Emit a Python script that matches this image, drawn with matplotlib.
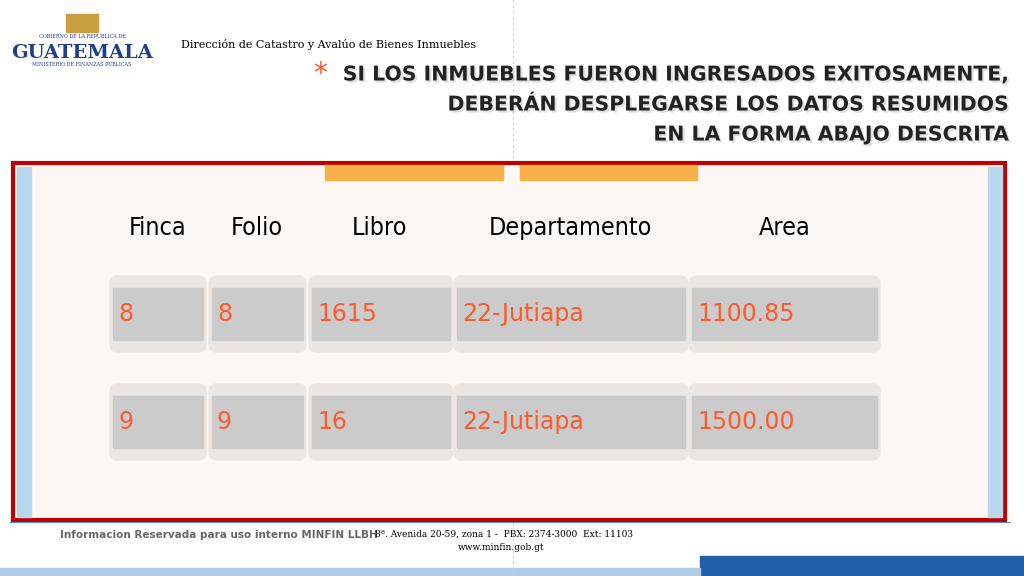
import matplotlib
matplotlib.use("Agg")
import matplotlib.pyplot as plt
from matplotlib.patches import Rectangle, FancyBboxPatch
import matplotlib.patheffects as pe

columns = ["Finca", "Folio", "Libro", "Departamento", "Area"]
row_values = [["8", "8", "1615", "22-Jutiapa", "1100.85"],
              ["9", "9", "16", "22-Jutiapa", "1500.00"]]
title_lines = ["SI LOS INMUEBLES FUERON INGRESADOS EXITOSAMENTE,",
               "DEBERÁN DESPLEGARSE LOS DATOS RESUMIDOS",
               "EN LA FORMA ABAJO DESCRITA"]

fig = plt.figure(figsize=(10.24, 5.76), dpi=100)
ax = fig.add_axes([0, 0, 1, 1])
ax.set_xlim(0, 1024); ax.set_ylim(576, 0); ax.axis("off")

ax.plot([513, 513], [0, 576], ls=(0, (2, 3)), color="#d0d0d0", lw=0.8)
ax.text(82, 53, "GUATEMALA", family="DejaVu Serif", weight="bold", size=14, color="#1f3f8a", ha="center", va="center")
ax.text(82, 38, "GOBIERNO DE LA REPÚBLICA DE", family="DejaVu Serif", size=3.5, color="#1f3f8a", ha="center")
ax.text(82, 66, "MINISTERIO DE FINANZAS PÚBLICAS", family="DejaVu Serif", size=3.5, color="#1f3f8a", ha="center")
ax.add_patch(Rectangle((66, 14), 32, 18, color="#c8a040"))
ax.text(181, 44, "Dirección de Catastro y Avalúo de Bienes Inmuebles", family="DejaVu Serif", size=8, va="center")

ys = [75, 105, 135]
for y, t in zip(ys, title_lines):
    ax.text(1008, y, t, ha="right", va="center", size=14.7, weight="bold", family="DejaVu Sans",
            color="#222222", path_effects=[pe.withSimplePatchShadow(offset=(1.5, -1.5), shadow_rgbFace="#999999")])
ax.text(320, 74, "*", size=20, color="#ff5a2a", va="center", ha="center")

ax.add_patch(Rectangle((13, 163), 992, 357, facecolor="#fdf7f3", edgecolor="#c00000", lw=3, zorder=2))
ax.add_patch(Rectangle((17, 167), 14, 350, color="#b8d8ee", zorder=3))
ax.add_patch(Rectangle((988, 167), 14, 350, color="#b8d8ee", zorder=3))
ax.add_patch(Rectangle((325, 165), 178, 15, color="#f8b04a", zorder=3))
ax.add_patch(Rectangle((520, 165), 177, 15, color="#f8b04a", zorder=3))

col_x = [(113, 203), (212, 303), (312, 450), (457, 685), (692, 877)]
head_x = [158, 257, 380, 570, 785]
for hx, c in zip(head_x, columns):
    ax.text(hx, 228, c, ha="center", va="center", size=18, family="DejaVu Sans", stretch="condensed", zorder=4)
row_y = [(288, 340), (396, 448)]
for (y0, y1), vals in zip(row_y, row_values):
    for (x0, x1), v in zip(col_x, vals):
        ax.add_patch(FancyBboxPatch((x0 - 3, y0 - 12), x1 - x0 + 6, y1 - y0 + 24,
                                    boxstyle="round,pad=0,rounding_size=8", color="#ebe6e2", zorder=3))
        ax.add_patch(Rectangle((x0, y0), x1 - x0, y1 - y0, color="#cbcbcb", zorder=4))
        ax.text(x0 + 5, (y0 + y1) / 2, v, ha="left", va="center", size=17, color="#ff5a2a",
                family="DejaVu Sans", zorder=5)

ax.plot([10, 1010], [522, 522], color="#5a8fc8", lw=0.8)
ax.text(60, 535, "Informacion Reservada para uso interno MINFIN LLBH", size=7.5, weight="bold", color="#666666", va="center")
ax.text(375, 534, "8ª. Avenida 20-59, zona 1 -  PBX: 2374-3000  Ext: 11103", size=6.5, family="DejaVu Serif", va="center")
ax.text(458, 547, "www.minfin.gob.gt", size=6.5, family="DejaVu Serif", va="center")
ax.add_patch(Rectangle((700, 556), 324, 20, color="#2060a8"))
ax.add_patch(Rectangle((0, 568), 700, 8, color="#b0cce8"))

fig.savefig("out.png", dpi=100)
